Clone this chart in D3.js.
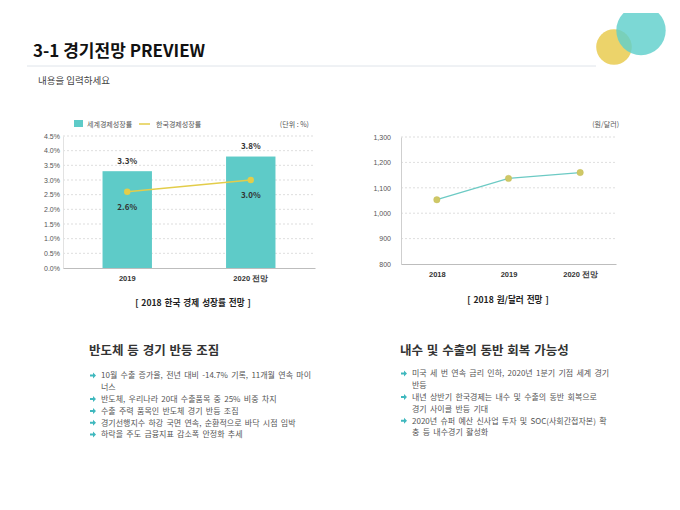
<!DOCTYPE html>
<html>
<head>
<meta charset="utf-8">
<script src="https://cdn.jsdelivr.net/npm/d3@7"></script>
<style>
  html, body { margin: 0; padding: 0; background: #fff; }
  svg { display: block; font-family: "Noto Sans CJK KR", "Noto Sans", sans-serif; }
</style>
</head>
<body>
<svg id="chart" width="680" height="510"></svg>
<script>
// 성장률 차트 데이터
const growthYears = ["2019", "2020 전망"];
const worldGrowth = [3.3, 3.8];   // 세계경제성장률
const koreaGrowth = [2.6, 3.0];   // 한국경제성장률
const growthTicks = [0, 0.5, 1, 1.5, 2, 2.5, 3, 3.5, 4, 4.5];

// 환율 차트 데이터
const fxYears = ["2018", "2019", "2020 전망"];
const fxRate = [1053, 1137, 1160];
const fxTicks = [800, 900, 1000, 1100, 1200, 1300];

// 하단 텍스트
const leftTitle = "반도체 등 경기 반등 조짐";
const leftBullets = [
  ["10월 수출 증가율, 전년 대비 -14.7% 기록, 11개월 연속 마이", "너스"],
  ["반도체, 우리나라 20대 수출품목 중 25% 비중 차지"],
  ["수출 주력 품목인 반도체 경기 반등 조짐"],
  ["경기선행지수 하강 국면 연속, 순환적으로 바닥 시점 임박"],
  ["하락을 주도 금융지표 감소폭 안정화 추세"]
];
const rightTitle = "내수 및 수출의 동반 회복 가능성";
const rightBullets = [
  ["미국 세 번 연속 금리 인하, 2020년 1분기 기점 세계 경기", "반등"],
  ["내년 상반기 한국경제는 내수 및 수출의 동반 회복으로", "경기 사이클 반등 기대"],
  ["2020년 슈퍼 예산 신사업 투자 및 SOC(사회간접자본) 확", "충 등 내수경기 활성화"]
];

const teal = "#5ecbc8", yellow = "#e3cd4a";
const svg = d3.select("#chart");

// 상단 장식 원
svg.append("clipPath").attr("id", "topclip")
  .append("rect").attr("x", 0).attr("y", 13).attr("width", 680).attr("height", 497);
let deco = svg.append("g").attr("clip-path", "url(#topclip)");
deco.append("circle").attr("cx", 614).attr("cy", 47).attr("r", 17.8).attr("fill", "#ecd36a");
deco.append("circle").attr("cx", 641).attr("cy", 30.5).attr("r", 24.7).attr("fill", "#5fcfcc").attr("opacity", 0.82);

// 제목
svg.append("text").attr("x", 33).attr("y", 57).attr("font-size", 17).attr("font-weight", 700)
  .attr("fill", "#111").text("3-1 경기전망 PREVIEW");
svg.append("line").attr("x1", 27).attr("x2", 596).attr("y1", 66).attr("y2", 66)
  .attr("stroke", "#dfe4ea").attr("stroke-width", 1);
svg.append("text").attr("x", 38).attr("y", 84).attr("font-size", 9.5)
  .attr("fill", "#444").text("내용을 입력하세요");

// ---------- 왼쪽: 경제 성장률 ----------
let g1 = svg.append("g");
let x1 = d3.scaleBand().domain(growthYears).range([63, 315]).paddingInner(0.6).paddingOuter(0.32);
let y1 = d3.scaleLinear().domain([0, 4.5]).range([268, 136]);

g1.append("g").selectAll("line").data(growthTicks.slice(1)).join("line")
  .attr("x1", 63).attr("x2", 315).attr("y1", d => y1(d)).attr("y2", d => y1(d))
  .attr("stroke", "#c8c8c8").attr("stroke-width", 0.6).attr("stroke-dasharray", "2,2");

g1.append("g").attr("transform", "translate(63,0)")
  .call(d3.axisLeft(y1).tickValues(growthTicks).tickSize(0).tickPadding(3).tickFormat(d => d3.format(".1f")(d) + "%"))
  .call(a => a.select(".domain").attr("stroke", "#e2e2e2"))
  .call(a => a.selectAll("text").attr("font-size", 7).attr("fill", "#555").attr("font-family", null));

g1.selectAll("rect.bar").data(worldGrowth).join("rect").attr("class", "bar")
  .attr("x", (d, i) => x1(growthYears[i])).attr("width", x1.bandwidth())
  .attr("y", d => y1(d)).attr("height", d => y1(0) - y1(d)).attr("fill", teal);

g1.append("g").attr("transform", "translate(0,268)")
  .call(d3.axisBottom(x1).tickSize(0).tickPadding(8))
  .call(a => a.select(".domain").attr("stroke", "#bdbdbd"))
  .call(a => a.selectAll("text").attr("font-size", 7.5).attr("font-weight", 700).attr("fill", "#333").attr("font-family", null));

g1.selectAll("text.blab").data(worldGrowth).join("text").attr("class", "blab")
  .attr("x", (d, i) => x1(growthYears[i]) + x1.bandwidth() / 2).attr("y", d => y1(d) - 7.5)
  .attr("text-anchor", "middle").attr("font-size", 8).attr("font-weight", 700).attr("fill", "#333")
  .text(d => d3.format(".1f")(d) + "%");

let lineK = d3.line().x((d, i) => x1(growthYears[i]) + x1.bandwidth() / 2).y(d => y1(d));
g1.append("path").datum(koreaGrowth).attr("d", lineK)
  .attr("fill", "none").attr("stroke", yellow).attr("stroke-width", 1.3);
g1.selectAll("circle.kp").data(koreaGrowth).join("circle").attr("class", "kp")
  .attr("cx", (d, i) => x1(growthYears[i]) + x1.bandwidth() / 2).attr("cy", d => y1(d))
  .attr("r", 3.2).attr("fill", yellow);
g1.selectAll("text.klab").data(koreaGrowth).join("text").attr("class", "klab")
  .attr("x", (d, i) => x1(growthYears[i]) + x1.bandwidth() / 2).attr("y", d => y1(d) + 18)
  .attr("text-anchor", "middle").attr("font-size", 8).attr("font-weight", 700).attr("fill", "#333")
  .text(d => d3.format(".1f")(d) + "%");

// 범례
g1.append("rect").attr("x", 74).attr("y", 120).attr("width", 9).attr("height", 7).attr("fill", teal);
g1.append("text").attr("x", 87).attr("y", 126.5).attr("font-size", 7).attr("fill", "#555").text("세계경제성장률");
g1.append("line").attr("x1", 139).attr("x2", 150).attr("y1", 124).attr("y2", 124).attr("stroke", yellow).attr("stroke-width", 1.5);
g1.append("text").attr("x", 156).attr("y", 126.5).attr("font-size", 7).attr("fill", "#555").text("한국경제성장률");
g1.append("text").attr("x", 309).attr("y", 126.5).attr("text-anchor", "end").attr("font-size", 7).attr("fill", "#555").text("(단위 : %)");
g1.append("text").attr("x", 193).attr("y", 305.5).attr("text-anchor", "middle").attr("font-size", 8.6)
  .attr("font-weight", 700).attr("fill", "#222").attr("word-spacing", 1).text("[ 2018 한국 경제 성장률 전망 ]");

// ---------- 오른쪽: 원/달러 ----------
let g2 = svg.append("g");
let x2 = d3.scalePoint().domain(fxYears).range([401, 616]).padding(0.5);
let y2 = d3.scaleLinear().domain([800, 1300]).range([264, 137]);

g2.append("g").selectAll("line").data(fxTicks.slice(1)).join("line")
  .attr("x1", 401).attr("x2", 616).attr("y1", d => y2(d)).attr("y2", d => y2(d))
  .attr("stroke", "#c8c8c8").attr("stroke-width", 0.6).attr("stroke-dasharray", "2,2");

g2.append("g").attr("transform", "translate(401,0)")
  .call(d3.axisLeft(y2).tickValues(fxTicks).tickSize(0).tickPadding(10).tickFormat(d3.format(",")))
  .call(a => a.select(".domain").attr("stroke", "#cfcfcf"))
  .call(a => a.selectAll("text").attr("font-size", 7).attr("fill", "#555").attr("font-family", null));

g2.append("g").attr("transform", "translate(0,264)")
  .call(d3.axisBottom(x2).tickSize(0).tickPadding(8))
  .call(a => a.select(".domain").attr("stroke", "#bdbdbd"))
  .call(a => a.selectAll("text").attr("font-size", 7.5).attr("font-weight", 700).attr("fill", "#333").attr("font-family", null));

let lineF = d3.line().x((d, i) => x2(fxYears[i])).y(d => y2(d));
g2.append("path").datum(fxRate).attr("d", lineF)
  .attr("fill", "none").attr("stroke", "#6ccac4").attr("stroke-width", 1.3);
g2.selectAll("circle").data(fxRate).join("circle")
  .attr("cx", (d, i) => x2(fxYears[i])).attr("cy", d => y2(d))
  .attr("r", 3.2).attr("fill", "#cfc866").attr("stroke", "#c3bb55").attr("stroke-width", 0.4);

g2.append("text").attr("x", 619).attr("y", 127).attr("text-anchor", "end").attr("font-size", 7).attr("fill", "#555").text("(원/달러)");
g2.append("text").attr("x", 508).attr("y", 303).attr("text-anchor", "middle").attr("font-size", 8.6)
  .attr("font-weight", 700).attr("fill", "#222").attr("word-spacing", 1).text("[ 2018 원/달러 전망 ]");

// ---------- 하단 텍스트 블록 ----------
function textBlock(x, title, bullets, lineY) {
  let g = svg.append("g");
  g.append("text").attr("x", x).attr("y", 355).attr("font-size", 12.5).attr("font-weight", 700)
    .attr("fill", "#333").attr("word-spacing", 1).text(title);
  let row = 0;
  bullets.forEach(lines => {
    let yy = lineY + row * 11.8;
    g.append("path")
      .attr("d", `M${x + 1},${yy - 1} h3 v-2 l3,3 l-3,3 v-2 h-3 z`)
      .attr("fill", "#3fb8be");
    lines.forEach((t, k) => {
      g.append("text").attr("x", x + 12).attr("y", yy + 2.8 + k * 11.8)
        .attr("font-size", 8).attr("word-spacing", 1.5).attr("fill", "#555").text(t);
    });
    row += lines.length;
  });
}
textBlock(89, leftTitle, leftBullets, 375.5);
textBlock(400, rightTitle, rightBullets, 373.5);
</script>
</body>
</html>
